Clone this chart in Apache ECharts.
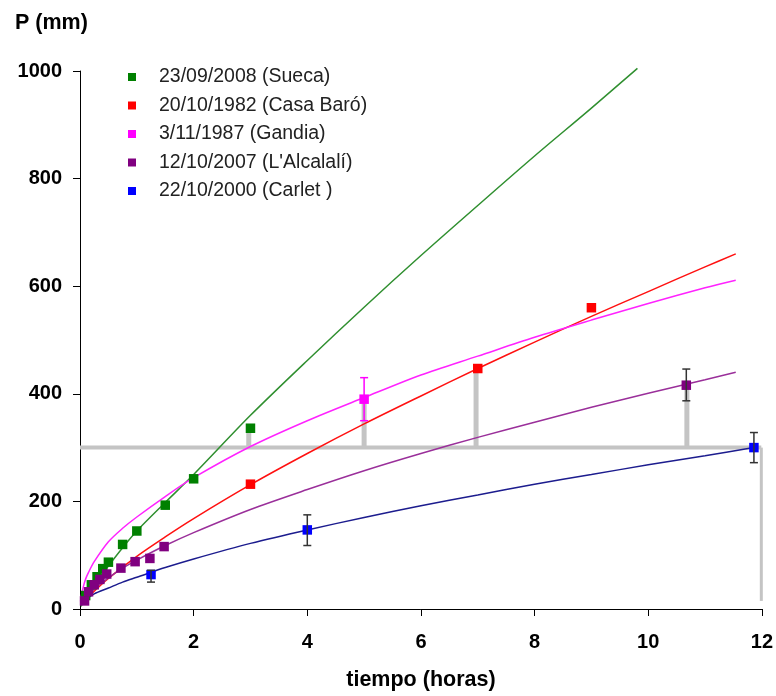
<!DOCTYPE html>
<html>
<head>
<meta charset="utf-8">
<script src="https://cdn.jsdelivr.net/npm/echarts@6/dist/echarts.min.js"></script>
<style>html,body{margin:0;padding:0;background:#fff;}#c{width:776px;height:696px;}</style>
</head>
<body>
<div id="c"></div>
<script>
// ---- data ----
const xTicks = [0, 2, 4, 6, 8, 10, 12];
const yTicks = [0, 200, 400, 600, 800, 1000];
const names = ['23/09/2008 (Sueca)', '20/10/1982 (Casa Baró)', '3/11/1987 (Gandia)', "12/10/2007 (L'Alcalalí)", '22/10/2000 (Carlet )'];

// observed points [t (h), P (mm)]
const suecaPts = [[0.1,25],[0.2,45],[0.3,60],[0.4,75],[0.5,87],[0.75,120],[1,145],[1.5,193],[2,242],[3,336]];
const casaBaroPts = [[3,232],[7,447],[9,560]];
const gandiaPts = [[5,390]];
const alcalaliPts = [[0.08,15],[0.15,32],[0.25,45],[0.35,55],[0.47,65],[0.72,76],[0.97,88],[1.23,94],[1.48,116],[10.67,416]];
const carletPts = [[1.25,64],[4,147],[11.86,300]];

// fitted curves
const suecaFit = [[0.02,5],[0.05,11],[0.1,21],[0.25,44],[0.5,80],[0.75,114],[1,145],[1.5,198],[2,250],[3,360],[4,462],[5,561],[6,657],[7,750],[8,842],[9,931],[9.81,1005]];
const casaBaroFit = [[0.1,16],[0.25,33],[0.5,57],[1,98],[1.5,134],[2,168],[3,231],[4,289],[5,344],[6,396],[7,447],[8,496],[9,544],[10,590],[11,636],[11.54,660]];
const gandiaFit = [[0.01,14],[0.03,28],[0.06,42],[0.1,56],[0.15,68],[0.25,88],[0.5,125],[0.75,150],[1,171],[1.5,209],[2,244],[3,302],[4,350],[5,393],[6,435],[7,470],[8,505],[9,537],[10,568],[11,597],[11.54,611]];
const alcalaliFit = [[0.02,7],[0.05,13],[0.1,21],[0.25,37],[0.5,58],[0.75,76],[1,91],[1.5,118],[2,142],[3,185],[4,222],[5,257],[6,289],[7,319],[8,347],[9,375],[10,401],[11,426],[11.54,440]];
const carletFit = [[0.02,8],[0.1,17],[0.25,28],[0.5,39],[0.75,50],[1,59],[1.5,77],[2,93],[3,122],[4,147],[5,170],[6,192],[7,212],[8,232],[9,250],[10,268],[11,285],[11.86,300]];

// error bars [t, low, high]
const errBlack = [[1.25,50,72],[4,118,175],[10.67,387,446],[11.86,272,328]];
const errGandia = [[5,350,430]];

// grey reference: threshold level and bars to points
const thresholdLine = [[0,300],[11.99,300]];
const thresholdDrop = [[11.99,300],[11.99,15]];
const greyBars = [[2.97,300,336],[5,300,390],[6.97,300,447],[10.68,300,416]];

const markerColors = ['#008000', '#ff0000', '#ff00ff', '#800080', '#0000ff'];
const lineColors = ['#2f8f2f', '#ff1010', '#ff22ff', '#9a2f9a', '#1c1c8e'];

function vbar(color, width, cap) {
  return function (params, api) {
    const x = api.value(0), lo = api.value(1), hi = api.value(2);
    const a = api.coord([x, lo]), b = api.coord([x, hi]);
    const st = { stroke: color, lineWidth: width };
    const ch = [{ type: 'line', shape: { x1: a[0], y1: a[1], x2: b[0], y2: b[1] }, style: st }];
    if (cap) {
      ch.push({ type: 'line', shape: { x1: a[0] - cap, y1: a[1], x2: a[0] + cap, y2: a[1] }, style: st });
      ch.push({ type: 'line', shape: { x1: b[0] - cap, y1: b[1], x2: b[0] + cap, y2: b[1] }, style: st });
    }
    return { type: 'group', children: ch };
  };
}

const pts = [suecaPts, casaBaroPts, gandiaPts, alcalaliPts, carletPts];
const fits = [suecaFit, casaBaroFit, gandiaFit, alcalaliFit, carletFit];

const series = [];
series.push({ type: 'line', name: 'thr', data: thresholdLine, symbol: 'none', silent: true, clip: false,
  lineStyle: { color: '#c4c4c4', width: 4 }, z: 1 });
series.push({ type: 'line', name: 'thr2', data: thresholdDrop, symbol: 'none', silent: true, clip: false,
  lineStyle: { color: '#c4c4c4', width: 3 }, z: 1 });
series.push({ type: 'custom', name: 'bars', data: greyBars, renderItem: vbar('#c4c4c4', 5, 0), z: 1, silent: true });
fits.forEach((f, i) => {
  series.push({ type: 'line', name: 'fit' + i, data: f, symbol: 'none', smooth: 0.3, clip: false,
    lineStyle: { color: lineColors[i], width: 1.5 }, z: 2, silent: true });
});
pts.forEach((p, i) => {
  series.push({ type: 'scatter', name: names[i], data: p, symbol: 'rect', symbolSize: 9.5,
    itemStyle: { color: markerColors[i], opacity: 1 }, z: 3 });
});
series.push({ type: 'custom', name: 'errB', data: errBlack, renderItem: vbar('#333333', 1.5, 4), z: 4, silent: true });
series.push({ type: 'custom', name: 'errG', data: errGandia, renderItem: vbar('#ff00ff', 1.5, 4), z: 4, silent: true });

const chart = echarts.init(document.getElementById('c'));
chart.setOption({
  animation: false,
  backgroundColor: '#ffffff',
  title: { text: 'P (mm)', left: 10, top: 7,
    textStyle: { fontFamily: 'Arial, Liberation Sans', fontWeight: 'bold', fontSize: 21.5, color: '#000' } },
  grid: { left: 80, right: 12, top: 71, bottom: 87 },
  legend: {
    data: names, orient: 'vertical', left: 123, top: 62,
    icon: 'rect', itemWidth: 8, itemHeight: 8, itemGap: 8.5,
    textStyle: { fontFamily: 'Arial, Liberation Sans', fontSize: 19.5, color: '#222', lineHeight: 20, padding: [0, 0, 0, 18] }
  },
  xAxis: {
    type: 'value', min: xTicks[0], max: xTicks[xTicks.length - 1], interval: xTicks[1] - xTicks[0],
    name: 'tiempo (horas)', nameLocation: 'middle', nameGap: 60,
    nameTextStyle: { fontFamily: 'Arial, Liberation Sans', fontWeight: 'bold', fontSize: 21.5, color: '#000' },
    axisLine: { lineStyle: { color: '#000', width: 1 } },
    axisTick: { show: true, length: 7, lineStyle: { color: '#000' } },
    axisLabel: { margin: 23, fontFamily: 'Arial, Liberation Sans', fontWeight: 'bold', fontSize: 20, color: '#000',
      formatter: v => String(v) },
    splitLine: { show: false }
  },
  yAxis: {
    type: 'value', min: yTicks[0], max: yTicks[yTicks.length - 1], interval: yTicks[1] - yTicks[0],
    axisLine: { show: true, lineStyle: { color: '#000', width: 1 } },
    axisTick: { show: true, length: 7, lineStyle: { color: '#000' } },
    axisLabel: { margin: 18, fontFamily: 'Arial, Liberation Sans', fontWeight: 'bold', fontSize: 20, color: '#000',
      formatter: v => String(v) },
    splitLine: { show: false }
  },
  series: series
});
</script>
</body>
</html>
